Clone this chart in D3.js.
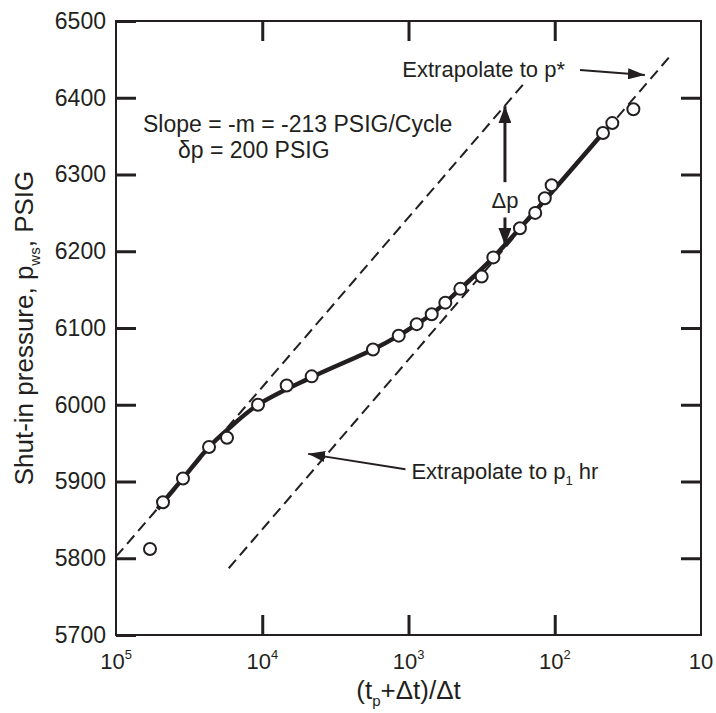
<!DOCTYPE html>
<html>
<head>
<meta charset="utf-8">
<script src="https://cdn.jsdelivr.net/npm/d3@7"></script>
<style>
  body { margin: 0; background: #fff; }
  text { font-family: "Liberation Sans", Arial, sans-serif; fill: #231f20; }
</style>
</head>
<body>
<div id="chart"></div>
<script>
// Horner-type buildup data
const ratio = [58560, 47700, 34830, 23120, 17420, 10690, 6808, 4592, 1749, 1167, 879, 694, 560, 442, 316, 263, 173, 136, 117, 105, 46.8, 40.4, 29];
const pressure = [5812, 5873, 5904, 5945, 5957, 6000, 6025, 6037, 6072, 6090, 6105, 6118, 6133, 6151, 6167, 6192, 6230, 6250, 6269, 6286, 6354, 6367, 6385];

// hand-drawn fit curve through the data
const fitRatio = [52000, 47700, 34830, 23120, 17420, 10690, 4592, 1749, 1167, 879, 694, 560, 442, 263, 46.8];
const fitPressure = [5864, 5873, 5904, 5945, 5967, 6000, 6036, 6072, 6090, 6105, 6118, 6133, 6151, 6192, 6354];

// straight-line extrapolations (end points)
const lineARatio = [1e5, 165];
const lineAPressure = [5802, 6417];
const lineBRatio = [16950, 16.3];
const lineBPressure = [5787, 6454];

const xTicks = [1e5, 1e4, 1e3, 1e2, 10];
const xTickExp = ["5", "4", "3", "2", ""];
const yTicks = [5700, 5800, 5900, 6000, 6100, 6200, 6300, 6400, 6500];

const W = 716, H = 713;
const margin = { top: 21, right: 15, bottom: 78, left: 116 };
const width = W - margin.left - margin.right;
const height = H - margin.top - margin.bottom;
const ink = "#231f20";

const svg = d3.select("#chart")
  .append("svg")
  .attr("width", W)
  .attr("height", H);

const defs = svg.append("defs");
function head(id, len, wid) {
  defs.append("marker")
    .attr("id", id)
    .attr("markerUnits", "userSpaceOnUse")
    .attr("viewBox", `0 ${-wid / 2} ${len} ${wid}`)
    .attr("refX", len)
    .attr("refY", 0)
    .attr("markerWidth", len)
    .attr("markerHeight", wid)
    .attr("orient", "auto")
    .append("path")
    .attr("d", `M0,${-wid / 2}L${len},0L0,${wid / 2}Z`)
    .attr("fill", ink);
}
head("arrowSmall", 17, 11);
head("arrowBig", 17, 13);

const g = svg.append("g")
  .attr("transform", `translate(${margin.left},${margin.top})`);

const x = d3.scaleLog().domain([1e5, 10]).range([0, width]);
const y = d3.scaleLinear().domain([5700, 6500]).range([height, 0]);

// inward ticks on all four sides
const tickStyle = sel => {
  sel.select(".domain").remove();
  sel.selectAll(".tick line").attr("stroke", ink).attr("stroke-width", 3);
};

g.append("g")
  .call(d3.axisLeft(y).tickValues(yTicks).tickSize(-20).tickPadding(10).tickFormat(d3.format("d")))
  .call(tickStyle)
  .call(s => s.selectAll(".tick text").attr("font-size", 23).attr("fill", ink));

g.append("g")
  .attr("transform", `translate(${width},0)`)
  .call(d3.axisRight(y).tickValues(yTicks.slice(1, -1)).tickSize(-20).tickFormat(""))
  .call(tickStyle);

g.append("g")
  .attr("transform", `translate(0,${height})`)
  .call(d3.axisBottom(x).tickValues(xTicks.slice(1, -1)).tickSize(-20).tickFormat(""))
  .call(tickStyle);

g.append("g")
  .call(d3.axisTop(x).tickValues(xTicks.slice(1, -1)).tickSize(-20).tickFormat(""))
  .call(tickStyle);

// x tick labels with exponents
const xl = g.append("g").selectAll("text")
  .data(xTicks)
  .enter()
  .append("text")
  .attr("x", d => x(d))
  .attr("y", height + 34)
  .attr("text-anchor", "middle")
  .attr("font-size", 22);
xl.append("tspan").text("10");
xl.append("tspan")
  .attr("dy", -10)
  .attr("font-size", 13)
  .text((d, i) => xTickExp[i]);

// frame
g.append("rect")
  .attr("width", width)
  .attr("height", height)
  .attr("fill", "none")
  .attr("stroke", ink)
  .attr("stroke-width", 2);

// dashed extrapolation lines
const straight = d3.line().x(d => x(d[0])).y(d => y(d[1]));
[[lineARatio, lineAPressure], [lineBRatio, lineBPressure]].forEach(([rx, py]) => {
  g.append("path")
    .attr("d", straight(rx.map((r, i) => [r, py[i]])))
    .attr("fill", "none")
    .attr("stroke", ink)
    .attr("stroke-width", 2)
    .attr("stroke-dasharray", "11,6");
});

// fitted curve
const curve = d3.line()
  .x(d => x(d[0]))
  .y(d => y(d[1]))
  .curve(d3.curveCatmullRom.alpha(0.5));
g.append("path")
  .attr("d", curve(fitRatio.map((r, i) => [r, fitPressure[i]])))
  .attr("fill", "none")
  .attr("stroke", ink)
  .attr("stroke-width", 4.5)
  .attr("stroke-linejoin", "round");

// data points
g.selectAll("circle.pt")
  .data(ratio.map((r, i) => [r, pressure[i]]))
  .enter()
  .append("circle")
  .attr("class", "pt")
  .attr("cx", d => x(d[0]))
  .attr("cy", d => y(d[1]))
  .attr("r", 6)
  .attr("fill", "#fff")
  .attr("stroke", ink)
  .attr("stroke-width", 2);

// delta p arrow between the two straight lines
const dpX = x(219);
g.append("line")
  .attr("x1", dpX).attr("x2", dpX)
  .attr("y1", y(6290)).attr("y2", y(6389))
  .attr("stroke", ink).attr("stroke-width", 3)
  .attr("marker-end", "url(#arrowBig)");
g.append("line")
  .attr("x1", dpX).attr("x2", dpX)
  .attr("y1", y(6244)).attr("y2", y(6208))
  .attr("stroke", ink).attr("stroke-width", 3)
  .attr("marker-end", "url(#arrowBig)");
g.append("text")
  .attr("x", dpX)
  .attr("y", y(6267) + 8)
  .attr("text-anchor", "middle")
  .attr("font-size", 22)
  .text("Δp");

// p* annotation
g.append("line")
  .attr("x1", x(67.2)).attr("y1", y(6436))
  .attr("x2", x(24.2)).attr("y2", y(6429.5))
  .attr("stroke", ink).attr("stroke-width", 2)
  .attr("marker-end", "url(#arrowSmall)");
g.append("text")
  .attr("x", x(67.2) - 15)
  .attr("y", y(6436) + 7)
  .attr("text-anchor", "end")
  .attr("font-size", 22)
  .text("Extrapolate to p*");

// p1hr annotation
g.append("line")
  .attr("x1", x(1050)).attr("y1", y(5916))
  .attr("x2", x(4860)).attr("y2", y(5936))
  .attr("stroke", ink).attr("stroke-width", 2)
  .attr("marker-end", "url(#arrowSmall)");
const p1 = g.append("text")
  .attr("x", x(1050) + 6)
  .attr("y", y(5916) + 10)
  .attr("font-size", 22);
p1.append("tspan").text("Extrapolate to p");
p1.append("tspan").attr("dy", 6).attr("font-size", 13).text("1");
p1.append("tspan").attr("dy", -6).text(" hr");

// slope note
g.append("text")
  .attr("x", 27)
  .attr("y", 111)
  .attr("font-size", 23)
  .text("Slope = -m = -213 PSIG/Cycle");
g.append("text")
  .attr("x", 62)
  .attr("y", 137)
  .attr("font-size", 23)
  .text("δp = 200 PSIG");

// axis titles
const yt = svg.append("text")
  .attr("transform", `translate(33,${margin.top + height / 2}) rotate(-90)`)
  .attr("text-anchor", "middle")
  .attr("font-size", 26);
yt.append("tspan").text("Shut-in pressure, p");
yt.append("tspan").attr("dy", 7).attr("font-size", 15).text("ws");
yt.append("tspan").attr("dy", -7).text(", PSIG");

const xt = svg.append("text")
  .attr("x", margin.left + width / 2)
  .attr("y", 699)
  .attr("text-anchor", "middle")
  .attr("font-size", 26);
xt.append("tspan").text("(t");
xt.append("tspan").attr("dy", 7).attr("font-size", 15).text("p");
xt.append("tspan").attr("dy", -7).text("+Δt)/Δt");
</script>
</body>
</html>
